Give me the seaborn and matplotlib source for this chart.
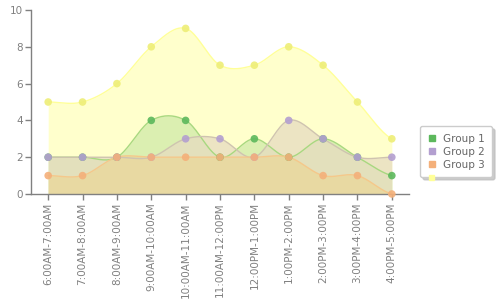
import numpy as np
import pandas as pd
import matplotlib
matplotlib.use("Agg")
import matplotlib.pyplot as plt
import seaborn as sns
from matplotlib.lines import Line2D
from matplotlib.patches import Rectangle

categories = ["6:00AM-7:00AM", "7:00AM-8:00AM", "8:00AM-9:00AM", "9:00AM-10:00AM",
              "10:00AM-11:00AM", "11:00AM-12:00PM", "12:00PM-1:00PM", "1:00PM-2:00PM",
              "2:00PM-3:00PM", "3:00PM-4:00PM", "4:00PM-5:00PM"]
group4 = [5, 5, 6, 8, 9, 7, 7, 8, 7, 5, 3]
group1 = [2, 2, 2, 4, 4, 2, 3, 2, 3, 2, 1]
group2 = [2, 2, 2, 2, 3, 3, 2, 4, 3, 2, 2]
group3 = [1, 1, 2, 2, 2, 2, 2, 2, 1, 1, 0]

series = [
    ("", group4, "#ffff99", "#ffffbb", "#eeee77"),
    ("Group 1", group1, "#a8d880", "#cfeaa8", "#5cb85c"),
    ("Group 2", group2, "#cfc3b0", "#e6dcc0", "#b39fd0"),
    ("Group 3", group3, "#f5c88a", "#ead79a", "#f4b07a"),
]

def catmull(y, n=20):
    y = np.asarray(y, float)
    p = np.concatenate([[y[0]], y, [y[-1]]])
    xs, ys = [], []
    for i in range(len(y) - 1):
        p0, p1, p2, p3 = p[i], p[i + 1], p[i + 2], p[i + 3]
        t = np.linspace(0, 1, n, endpoint=False)
        yy = 0.5 * ((2 * p1) + (-p0 + p2) * t + (2 * p0 - 5 * p1 + 4 * p2 - p3) * t ** 2
                    + (-p0 + 3 * p1 - 3 * p2 + p3) * t ** 3)
        xs.append(i + t)
        ys.append(yy)
    xs.append([len(y) - 1])
    ys.append([y[-1]])
    return np.concatenate(xs), np.concatenate(ys)

sns.set_theme(style="white")
plt.rcParams['font.family'] = ['DejaVu Sans']
fig = plt.figure(figsize=(5, 3), dpi=100)
ax = fig.add_axes([31 / 500, 1 - 194 / 300, (409 - 31) / 500, (194 - 10) / 300])

x = np.arange(len(categories))
for name, vals, lc, fc, mc in series:
    xs, ys = catmull(vals)
    ax.fill_between(xs, 0, ys, color=fc, alpha=0.75, lw=0, zorder=1)
    df = pd.DataFrame({"x": xs, "y": ys})
    sns.lineplot(data=df, x="x", y="y", ax=ax, color=lc, lw=1.0, zorder=2)
for name, vals, lc, fc, mc in series:
    df = pd.DataFrame({"x": x, "y": vals})
    sns.scatterplot(data=df, x="x", y="y", ax=ax, color=mc, s=30, edgecolor="none",
                    alpha=0.9, zorder=3, clip_on=False)

ax.set_xlim(-0.5, 10.5)
ax.set_ylim(0, 10)
ax.set_xticks(x)
ax.set_xticklabels(categories, rotation=90, fontsize=7.5, color="#808080")
ax.set_yticks([0, 2, 4, 6, 8, 10])
ax.set_yticklabels(["0", "2", "4", "6", "8", "10"], fontsize=7.5, color="#808080")
ax.set_xlabel("")
ax.set_ylabel("")
for s in ["top", "right"]:
    ax.spines[s].set_visible(False)
for s in ["left", "bottom"]:
    ax.spines[s].set_color("#808080")
    ax.spines[s].set_linewidth(1)
ax.tick_params(axis="both", which="both", length=4, width=1, color="#808080",
               bottom=True, left=True, pad=2)

handles = [Line2D([], [], marker="s", ls="none", color=c, markersize=5, label=n)
           for n, v, lc, fc, c in series[1:]]
leg = fig.legend(handles=handles, loc="upper left", bbox_to_anchor=(415 / 500, 1 - 121 / 300),
                 bbox_transform=fig.transFigure, fontsize=7.5, frameon=True, fancybox=True,
                 shadow={"color": "0.75", "alpha": 0.8}, handlelength=0.8, handletextpad=0.7,
                 labelspacing=0.3, borderpad=0.7, edgecolor="#cccccc")
for t in leg.get_texts():
    t.set_color("#666666")
fig.add_artist(Rectangle((429 / 500, 1 - 180 / 300), 5 / 500, 5 / 300,
                         transform=fig.transFigure, color="#ffff99", zorder=10))

fig.savefig("out.png", dpi=100)
